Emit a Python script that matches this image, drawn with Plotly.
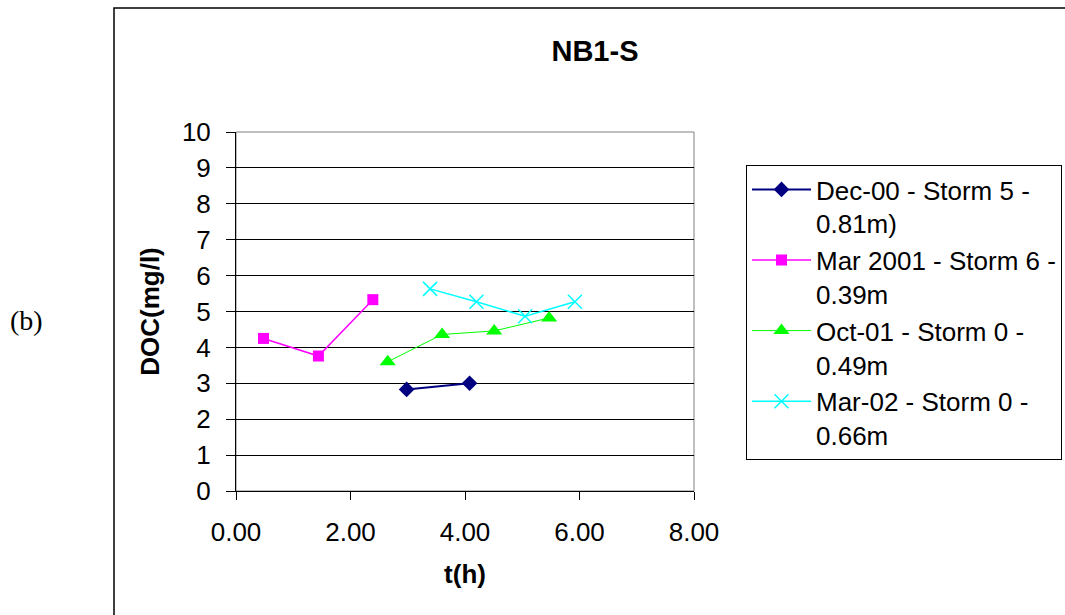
import plotly.graph_objects as go

# Data
dec00_t = [2.98, 4.08]
dec00_doc = [2.83, 3.00]
mar01_t = [0.48, 1.44, 2.39]
mar01_doc = [4.25, 3.76, 5.33]
oct01_t = [2.65, 3.60, 4.51, 5.47]
oct01_doc = [3.60, 4.36, 4.46, 4.82]
mar02_t = [3.39, 4.20, 5.05, 5.92]
mar02_doc = [5.63, 5.27, 4.87, 5.27]

names = [
    "Dec-00 - Storm 5 -<br>0.81m)",
    "Mar 2001 - Storm 6 -<br>0.39m",
    "Oct-01 - Storm 0 -<br>0.49m",
    "Mar-02 - Storm 0 -<br>0.66m",
]
x_ticks = [0, 2, 4, 6, 8]
y_ticks = list(range(0, 11))

FONT = "Arial, 'Liberation Sans', sans-serif"
FS = 26

fig = go.Figure()
fig.add_trace(go.Scatter(x=dec00_t, y=dec00_doc, name=names[0], mode="lines+markers",
                         line=dict(color="#000080", width=2),
                         marker=dict(symbol="diamond", size=12, color="#000080")))
fig.add_trace(go.Scatter(x=mar01_t, y=mar01_doc, name=names[1], mode="lines+markers",
                         line=dict(color="#FF00FF", width=1.5),
                         marker=dict(symbol="square", size=11, color="#FF00FF")))
fig.add_trace(go.Scatter(x=oct01_t, y=oct01_doc, name=names[2], mode="lines+markers",
                         line=dict(color="#00FF00", width=1),
                         marker=dict(symbol="triangle-up", size=14, color="#00FF00")))
fig.add_trace(go.Scatter(x=mar02_t, y=mar02_doc, name=names[3], mode="lines+markers",
                         line=dict(color="#00FFFF", width=1.5),
                         marker=dict(symbol="x-thin", size=14, color="#00FFFF",
                                     line=dict(color="#00FFFF", width=1.5))))

W, H = 1065, 615
L, R, T, B = 236, 694, 132, 491
pw, ph = R - L, B - T

def px(xr):
    return (xr - L) / pw

def py(yr):
    return (B - yr) / ph

fig.update_layout(
    width=W, height=H,
    margin=dict(l=L, r=W - R, t=T, b=H - B, autoexpand=False),
    paper_bgcolor="white", plot_bgcolor="white",
    font=dict(family=FONT, size=FS, color="black"),
    title=dict(text="<b>NB1-S</b>", x=595 / W, xanchor="center",
               y=1 - 51 / H, yanchor="middle", yref="container",
               font=dict(family=FONT, size=29, color="black")),
    showlegend=True,
    legend=dict(x=px(746), y=py(165), xanchor="left", yanchor="top",
                bordercolor="black", borderwidth=1, bgcolor="white",
                font=dict(family=FONT, size=FS, color="black"),
                valign="top", tracegroupgap=0, itemwidth=59),
    xaxis=dict(range=[0, 8], tickvals=x_ticks, tickformat=".2f",
               showgrid=False, zeroline=False, showline=True, linecolor="black",
               linewidth=1, ticks="outside", ticklen=8, tickcolor="black",
               ticklabelstandoff=10,
               title=dict(text="<b>t(h)</b>", standoff=18,
                          font=dict(family=FONT, size=FS))),
    yaxis=dict(range=[0, 10], tickvals=y_ticks,
               showgrid=True, gridcolor="black", gridwidth=1, zeroline=False,
               showline=True, linecolor="black", linewidth=1,
               ticks="outside", ticklen=9, tickcolor="black",
               ticklabelstandoff=10,
               title=dict(text="<b>DOC(mg/l)</b>", standoff=14,
                          font=dict(family=FONT, size=FS))),
    shapes=[
        dict(type="rect", xref="paper", yref="paper", x0=0, x1=1, y0=0, y1=1,
             line=dict(color="#808080", width=1), layer="below"),
        dict(type="rect", xref="paper", yref="paper",
             x0=px(114), x1=px(1080), y0=py(630), y1=py(8),
             line=dict(color="black", width=1.5), layer="below"),
    ],
    annotations=[
        dict(text="(b)", xref="paper", yref="paper", x=px(26), y=py(320),
             xanchor="center", yanchor="middle", showarrow=False,
             font=dict(family="'Liberation Serif', 'Times New Roman', serif", size=28)),
    ],
)

fig.write_html("out.html",
               config={"displayModeBar": False},
               post_script="document.body.style.margin='0';document.body.style.overflow='hidden';")
